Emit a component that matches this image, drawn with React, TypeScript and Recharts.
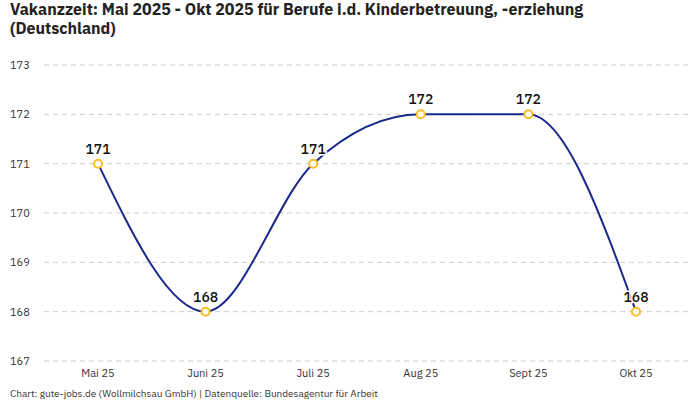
import { LineChart, Line, XAxis, YAxis, CartesianGrid, LabelList } from 'recharts';

const months = ['Mai 25', 'Juni 25', 'Juli 25', 'Aug 25', 'Sept 25', 'Okt 25'];
const vakanzzeit = [171, 168, 171, 172, 172, 168];
const yTicks = [167, 168, 169, 170, 171, 172, 173];

const FONT = '"IBM Plex Sans", Roboto, "Noto Sans", sans-serif';

const data = months.map((m, i) => ({ month: m, value: vakanzzeit[i] }));

function YTick({ y, payload }: any) {
  return (
    <text x={10} y={y} dy={4} textAnchor="start" fontSize={11} fill="#333" fontFamily={FONT}>
      {payload.value}
    </text>
  );
}

export default function App() {
  return (
    <div style={{ position: 'relative', width: 700, height: 400, background: '#fff', fontFamily: FONT }}>
      <style>{`body{margin:0}`}</style>
      <div
        style={{
          position: 'absolute',
          left: 10,
          top: 0,
          width: 680,
          fontSize: 16,
          fontWeight: 700,
          lineHeight: '19px',
          color: '#222',
        }}
      >
        Vakanzzeit: Mai 2025 - Okt 2025 für Berufe i.d. Kinderbetreuung, -erziehung (Deutschland)
      </div>
      <LineChart
        width={700}
        height={400}
        data={data}
        margin={{ top: 65, right: 10, bottom: 19, left: 0 }}
      >
        <CartesianGrid vertical={false} stroke="#ccc" strokeDasharray="5 4" />
        <XAxis
          dataKey="month"
          axisLine={false}
          tickLine={false}
          height={20}
          padding={{ left: 54, right: 54 }}
          tick={{ fontSize: 11, fill: '#333', fontFamily: FONT }}
          interval={0}
        />
        <YAxis
          domain={[167, 173]}
          ticks={yTicks}
          width={44}
          axisLine={false}
          tickLine={false}
          tick={<YTick />}
        />
        <Line
          type="monotone"
          dataKey="value"
          stroke="#1a2a8c"
          strokeWidth={2}
          dot={{ r: 4, fill: '#fff', stroke: '#fbbf24', strokeWidth: 2 }}
          isAnimationActive={false}
        >
          <LabelList
            dataKey="value"
            position="top"
            offset={10}
            style={{
              fontSize: 14,
              fontWeight: 500,
              fill: '#111',
              fontFamily: FONT,
              stroke: '#fff',
              strokeWidth: 3,
              paintOrder: 'stroke',
            }}
          />
        </Line>
      </LineChart>
      <div style={{ position: 'absolute', left: 10, top: 387, fontSize: 10, color: '#333' }}>
        Chart: gute-jobs.de (Wollmilchsau GmbH) | Datenquelle: Bundesagentur für Arbeit
      </div>
    </div>
  );
}
